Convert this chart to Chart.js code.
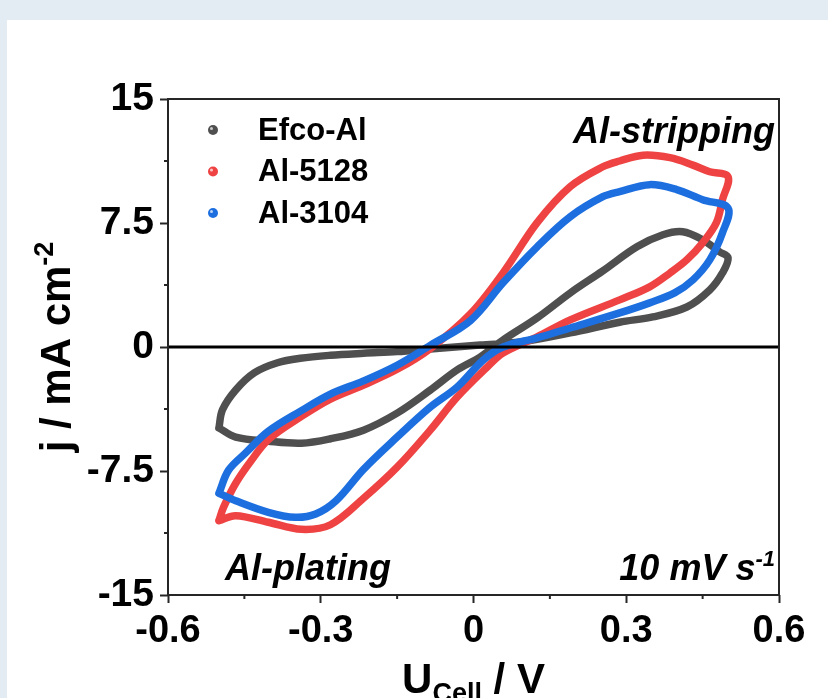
<!DOCTYPE html>
<html>
<head>
<meta charset="utf-8">
<script src="https://cdn.jsdelivr.net/npm/chart.js@4.4.1/dist/chart.umd.min.js"></script>
<style>
html,body{margin:0;padding:0;background:#e4ecf3;}
body{width:828px;height:698px;overflow:hidden;position:relative;}
#panel{position:absolute;left:7px;top:20px;width:821px;height:678px;background:#fff;}
canvas{display:block;}
</style>
</head>
<body>
<div id="panel"><canvas id="cv" width="821" height="678"></canvas></div>
<script>
// CV loops (U_cell in V, j in mA cm-2), one closed loop each
const efcoV = [-0.50,-0.467,-0.403,-0.338,-0.281,-0.216,-0.150,-0.085,-0.032,0.013,0.058,0.125,0.19,0.254,0.321,0.372,0.411,0.45,0.483,0.50,
               0.489,0.464,0.419,0.352,0.287,0.19,0.092,0.013,-0.085,-0.15,-0.216,-0.281,-0.34,-0.385,-0.43,-0.467,-0.493,-0.50];
const efcoJ = [-4.9,-5.45,-5.70,-5.82,-5.55,-5.03,-4.0,-2.61,-1.39,-0.61,0.42,1.76,3.27,4.6,6.06,6.79,6.97,6.48,5.76,5.4,
               4.48,3.45,2.42,1.82,1.5,0.85,0.3,0.12,-0.12,-0.28,-0.38,-0.5,-0.68,-0.95,-1.55,-2.6,-3.8,-4.9];

const a5128V = [-0.50,-0.467,-0.403,-0.338,-0.281,-0.216,-0.150,-0.085,-0.032,0.027,0.058,0.125,0.19,0.287,0.346,0.386,0.419,0.45,0.477,0.489,0.50,
                0.464,0.431,0.386,0.333,0.287,0.254,0.19,0.125,0.058,-0.006,-0.085,-0.15,-0.216,-0.281,-0.338,-0.403,-0.436,-0.467,-0.491,-0.50];
const a5128J = [-10.5,-10.2,-10.6,-11.03,-10.75,-9.15,-7.27,-5.03,-3.03,-1.21,-0.36,0.61,1.64,2.85,3.64,4.48,5.27,6.3,7.52,8.91,10.3,
                10.6,11.0,11.45,11.6,11.25,10.9,9.7,7.52,4.48,2.0,-0.1,-1.35,-2.3,-3.15,-4.2,-5.6,-6.85,-8.24,-9.7,-10.5];

const a3104V = [-0.50,-0.467,-0.403,-0.350,-0.31,-0.27,-0.216,-0.150,-0.085,-0.032,0.019,0.058,0.125,0.19,0.287,0.346,0.395,0.431,0.464,0.489,0.50,
                0.45,0.399,0.346,0.287,0.254,0.19,0.125,0.058,-0.006,-0.085,-0.15,-0.216,-0.281,-0.338,-0.403,-0.448,-0.481,-0.50];
const a3104J = [-8.85,-9.3,-10.0,-10.3,-10.1,-9.3,-7.4,-5.45,-3.64,-2.42,-0.79,0,0.55,1.15,2.06,2.67,3.27,4.06,5.27,6.91,8.4,
                8.91,9.52,9.82,9.4,9.09,7.88,6.06,3.88,1.6,0.1,-1.1,-2.05,-2.85,-3.85,-5.1,-6.42,-7.45,-8.85];

const seriesNames = ['Efco-Al','Al-5128','Al-3104'];
const seriesColors = ['#4f4f4f','#ef4343','#1d6fe0'];

const xMajor = [-0.6,-0.3,0,0.3,0.6];
const xLabels = ['-0.6','-0.3','0','0.3','0.6'];
const yMajor = [-15,-7.5,0,7.5,15];
const yLabels = ['-15','-7.5','0','7.5','15'];

const FONT = '"Liberation Sans", Arial, Helvetica, sans-serif';
const majorIdx = (v,arr)=>arr.findIndex(m=>Math.abs(m-v)<1e-6);
const pts = (xs,ys)=>xs.map((x,i)=>({x:x,y:ys[i]}));

// draw a run of text pieces (for super/subscripts)
function rich(ctx,parts,x,y,align){
  let w=0;
  parts.forEach(p=>{ctx.font=p.f; p.w=ctx.measureText(p.t).width; w+=p.w;});
  let cx = align==='right' ? x-w : align==='center' ? x-w/2 : x;
  ctx.textAlign='left'; ctx.textBaseline='alphabetic';
  parts.forEach(p=>{ctx.font=p.f; ctx.fillText(p.t,cx,y+(p.dy||0)); cx+=p.w;});
}

const decor = {
  id:'decor',
  afterDatasetsDraw(chart){
    const {ctx, chartArea:a, scales:{x,y}} = chart;
    ctx.save();
    // zero line
    const y0=y.getPixelForValue(0);
    ctx.strokeStyle='#000'; ctx.lineWidth=3;
    ctx.beginPath(); ctx.moveTo(a.left,y0); ctx.lineTo(a.right,y0); ctx.stroke();
    // frame
    ctx.strokeStyle='#262626'; ctx.lineWidth=2;
    ctx.strokeRect(a.left,a.top,a.right-a.left,a.bottom-a.top);
    // minor ticks
    ctx.lineWidth=2;
    x.ticks.forEach(t=>{ if(majorIdx(t.value,xMajor)<0){const px=x.getPixelForValue(t.value);
      ctx.beginPath(); ctx.moveTo(px,a.bottom); ctx.lineTo(px,a.bottom+4); ctx.stroke();}});
    y.ticks.forEach(t=>{ if(majorIdx(t.value,yMajor)<0){const py=y.getPixelForValue(t.value);
      ctx.beginPath(); ctx.moveTo(a.left,py); ctx.lineTo(a.left-4,py); ctx.stroke();}});
    // legend
    ctx.font='bold 31px '+FONT; ctx.textBaseline='middle'; ctx.textAlign='left';
    seriesNames.forEach((n,i)=>{
      const ly=110+i*41.5;
      ctx.fillStyle=seriesColors[i];
      ctx.beginPath(); ctx.arc(206,ly,5,0,Math.PI*2); ctx.fill();
      ctx.fillStyle='rgba(255,255,255,0.7)';
      ctx.beginPath(); ctx.arc(204.5,ly-1.5,1.5,0,Math.PI*2); ctx.fill();
      ctx.fillStyle='#000'; ctx.fillText(n,251,ly+1);
    });
    // annotations
    ctx.fillStyle='#000';
    const bi='italic bold 36px '+FONT, bis='italic bold 22px '+FONT;
    rich(ctx,[{t:'Al-stripping',f:bi}],768,123,'right');
    rich(ctx,[{t:'Al-plating',f:bi}],218,560,'left');
    rich(ctx,[{t:'10 mV s',f:bi},{t:'-1',f:bis,dy:-14}],768,560,'right');
    // axis titles
    const b='bold 42px '+FONT, bs='bold 27px '+FONT;
    rich(ctx,[{t:'U',f:b},{t:'Cell',f:bs,dy:9},{t:' / V',f:b}],(a.left+a.right)/2,673,'center');
    ctx.translate(63,(a.top+a.bottom)/2); ctx.rotate(-Math.PI/2);
    rich(ctx,[{t:'j / mA cm',f:b},{t:'-2',f:bs,dy:-17}],0,0,'center');
    ctx.restore();
  }
};

const ds = [[efcoV,efcoJ],[a5128V,a5128J],[a3104V,a3104J]].map((d,i)=>({
  label:seriesNames[i], data:pts(d[0],d[1]), showLine:true,
  borderColor:seriesColors[i], backgroundColor:seriesColors[i],
  borderWidth:7.5, pointRadius:0, tension:0.35, fill:false,
  borderCapStyle:'round', borderJoinStyle:'round',
  order:[2,1,0][i]
}));

new Chart(document.getElementById('cv'),{
  type:'scatter',
  data:{datasets:ds},
  options:{
    responsive:false, animation:false, devicePixelRatio:1,
    layout:{padding:{left:0,right:49,top:79,bottom:0}},
    plugins:{legend:{display:false}, tooltip:{enabled:false}},
    scales:{
      x:{type:'linear',min:-0.6,max:0.6,
        afterFit:s=>{s.height=103;},
        border:{display:false},
        grid:{drawOnChartArea:false,tickLength:8,tickWidth:2,
          tickColor:c=>majorIdx(c.tick.value,xMajor)>=0?'#262626':'rgba(0,0,0,0)'},
        afterBuildTicks:s=>{s.ticks=[];for(let k=-4;k<=4;k++)s.ticks.push({value:k*0.15});},
        ticks:{autoSkip:false,maxRotation:0,padding:6,color:'#000',
          font:{family:FONT,size:38,weight:'bold'},
          callback:v=>{const k=majorIdx(v,xMajor);return k>=0?xLabels[k]:'';}}
      },
      y:{type:'linear',min:-15,max:15,
        afterFit:s=>{s.width=161;},
        border:{display:false},
        grid:{drawOnChartArea:false,tickLength:8,tickWidth:2,
          tickColor:c=>majorIdx(c.tick.value,yMajor)>=0?'#262626':'rgba(0,0,0,0)'},
        afterBuildTicks:s=>{s.ticks=[];for(let k=-4;k<=4;k++)s.ticks.push({value:k*3.75});},
        ticks:{autoSkip:false,padding:6,color:'#000',
          font:{family:FONT,size:39,weight:'bold'},
          callback:v=>{const k=majorIdx(v,yMajor);return k>=0?yLabels[k]:'';}}
      }
    }
  },
  plugins:[decor]
});
</script>
</body>
</html>
